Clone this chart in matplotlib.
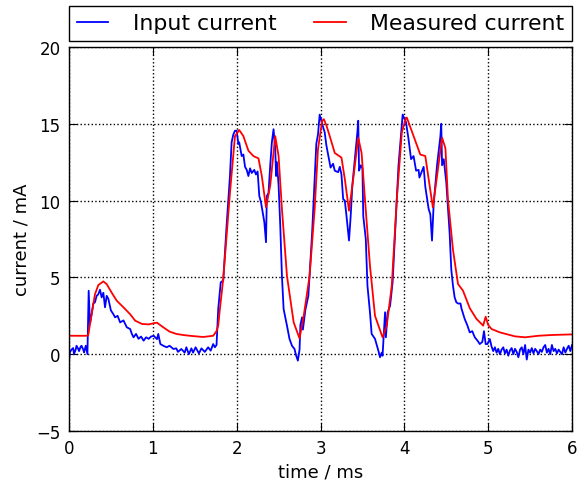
import matplotlib

matplotlib.use("Agg")

import matplotlib.pyplot as plt

# input current (blue)
t_input = [
    0.00, 0.01, 0.03, 0.05, 0.06, 0.08, 0.09, 0.11, 0.12, 0.14, 0.15, 0.17, 0.18, 0.20, 0.22,
    0.225, 0.235, 0.25, 0.27, 0.29, 0.31, 0.33, 0.35, 0.37, 0.39, 0.41, 0.43, 0.45, 0.47, 0.50,
    0.53, 0.55, 0.58, 0.61, 0.65, 0.69, 0.73, 0.75, 0.77, 0.80, 0.83, 0.86, 0.89, 0.92, 0.95,
    0.98, 1.01, 1.05, 1.065, 1.09, 1.125, 1.165, 1.20, 1.245, 1.28, 1.30, 1.34, 1.38, 1.40, 1.43,
    1.46, 1.48, 1.51, 1.55, 1.58, 1.62, 1.66, 1.69, 1.72, 1.74, 1.76, 1.78, 1.81, 1.84, 1.88,
    1.92, 1.94, 1.96, 1.98, 2.00, 2.02, 2.03, 2.06, 2.08, 2.10, 2.12, 2.14, 2.16, 2.18, 2.21,
    2.23, 2.25, 2.27, 2.29, 2.31, 2.33, 2.35, 2.36, 2.38, 2.40, 2.42, 2.44, 2.46, 2.47, 2.48,
    2.50, 2.52, 2.54, 2.56, 2.60, 2.63, 2.66, 2.69, 2.71, 2.73, 2.75, 2.76, 2.78, 2.79, 2.82,
    2.855, 2.90, 2.95, 2.97, 2.99, 3.03, 3.05, 3.07, 3.105, 3.12, 3.15, 3.17, 3.21, 3.23, 3.25,
    3.27, 3.29, 3.31, 3.34, 3.36, 3.38, 3.41, 3.44, 3.45, 3.46, 3.48, 3.50, 3.51, 3.54, 3.56,
    3.59, 3.61, 3.65, 3.69, 3.71, 3.73, 3.74, 3.77, 3.78, 3.80, 3.83, 3.86, 3.93, 3.98, 4.02,
    4.05, 4.08, 4.11, 4.14, 4.17, 4.18, 4.23, 4.25, 4.29, 4.31, 4.33, 4.35, 4.39, 4.43, 4.44,
    4.45, 4.47, 4.50, 4.54, 4.56, 4.58, 4.60, 4.62, 4.64, 4.67, 4.68, 4.72, 4.75, 4.78, 4.81,
    4.84, 4.87, 4.90, 4.93, 4.95, 4.97, 4.99, 5.02, 5.04, 5.06, 5.08, 5.10, 5.12, 5.14, 5.16,
    5.18, 5.20, 5.22, 5.24, 5.26, 5.28, 5.30, 5.32, 5.34, 5.36, 5.38, 5.40, 5.42, 5.44, 5.46,
    5.48, 5.50, 5.52, 5.54, 5.56, 5.58, 5.60, 5.62, 5.64, 5.66, 5.68, 5.70, 5.72, 5.74, 5.76,
    5.78, 5.80, 5.82, 5.84, 5.86, 5.88, 5.90, 5.92, 5.94, 5.96, 5.98, 6.00,
]
i_input = [
    -0.55, 0.12, 0.30, 0.40, 0.00, 0.30, 0.55, 0.35, 0.20, 0.50, 0.55, 0.30, 0.12, 0.55, 0.00,
    1.42, 4.13, 1.97, 2.60, 3.30, 3.38, 3.80, 3.90, 4.20, 3.70, 4.00, 3.05, 3.80, 3.60, 2.85,
    2.60, 2.40, 2.50, 2.07, 2.20, 1.75, 1.64, 1.32, 1.10, 1.32, 1.00, 1.15, 0.88, 1.10, 1.00,
    1.15, 1.20, 0.98, 1.32, 0.66, 0.55, 0.45, 0.55, 0.34, 0.38, 0.15, 0.34, 0.10, 0.45, 0.00,
    0.38, 0.10, 0.45, 0.05, 0.38, 0.15, 0.45, 0.23, 0.66, 0.45, 0.60, 2.94, 4.68, 4.80, 8.37,
    11.60, 13.80, 14.30, 14.55, 14.55, 13.70, 13.80, 12.90, 13.00, 12.20, 12.00, 11.60, 12.10, 11.80, 12.00,
    11.70, 11.90, 10.30, 9.90, 9.24, 8.60, 7.29, 10.30, 10.50, 12.27, 13.80, 14.65, 13.40, 11.60, 12.50,
    11.00, 8.37, 5.10, 2.94, 1.86, 1.00, 0.55, 0.34, -0.10, -0.42, 0.30, 1.90, 2.40, 1.60, 2.90,
    3.80, 7.90, 13.70, 14.30, 15.60, 14.80, 14.45, 13.60, 12.60, 12.15, 12.40, 11.95, 11.85, 12.20, 11.70,
    10.10, 10.00, 9.00, 7.40, 9.00, 11.00, 12.70, 14.45, 15.20, 11.95, 12.30, 12.10, 9.00, 7.50, 4.46,
    2.73, 1.32, 1.00, 0.23, -0.20, 0.10, -0.10, 2.73, 1.10, 2.70, 3.16, 4.68, 12.27, 15.60, 15.10,
    14.00, 12.70, 12.90, 11.95, 12.00, 11.50, 12.20, 10.90, 9.45, 9.10, 7.40, 9.80, 12.30, 14.20, 15.00,
    12.30, 12.70, 11.20, 7.90, 5.50, 4.46, 3.70, 3.38, 3.30, 3.30, 3.00, 2.29, 1.90, 1.42, 1.50,
    1.10, 0.90, 0.66, 0.80, 1.50, 0.66, 0.66, 0.98, 0.50, 0.20, 0.45, 0.10, 0.35, 0.00, 0.30,
    0.45, 0.05, 0.30, -0.10, 0.25, 0.40, 0.00, 0.35, 0.15, -0.20, 0.30, 0.45, 0.00, 0.60, -0.35,
    0.30, 0.10, 0.40, 0.05, 0.35, 0.20, 0.00, 0.30, 0.15, 0.45, 0.60, 0.10, 0.35, 0.00, 0.60,
    0.20, 0.35, 0.05, 0.30, 0.15, 0.00, 0.45, 0.10, 0.35, 0.55, 0.20, 0.60,
]

# measured current (red)
t_measured = [
    0.00, 0.22, 0.23, 0.27, 0.31, 0.35, 0.41, 0.45, 0.51, 0.57, 0.65, 0.73, 0.79, 0.87, 0.95,
    1.02, 1.05, 1.125, 1.20, 1.28, 1.36, 1.44, 1.60, 1.72, 1.76, 1.78, 1.80, 1.84, 1.92, 1.98,
    2.03, 2.08, 2.14, 2.20, 2.26, 2.30, 2.35, 2.40, 2.46, 2.50, 2.54, 2.60, 2.68, 2.75, 2.80,
    2.87, 2.93, 2.97, 3.02, 3.04, 3.07, 3.11, 3.17, 3.25, 3.29, 3.34, 3.39, 3.45, 3.49, 3.53,
    3.59, 3.65, 3.74, 3.79, 3.85, 3.91, 3.97, 4.02, 4.03, 4.11, 4.19, 4.25, 4.29, 4.34, 4.39,
    4.45, 4.49, 4.52, 4.58, 4.64, 4.70, 4.78, 4.86, 4.94, 4.97, 5.00, 5.04, 5.14, 5.32, 5.44,
    5.60, 5.76, 6.00,
]
i_measured = [
    1.20, 1.20, 1.25, 2.60, 3.90, 4.50, 4.74, 4.56, 4.00, 3.48, 3.05, 2.60, 2.18, 1.97, 1.94,
    2.03, 2.05, 1.75, 1.47, 1.32, 1.25, 1.20, 1.12, 1.20, 1.50, 1.86, 2.94, 4.90, 10.50, 14.20,
    14.60, 14.20, 13.25, 12.90, 12.75, 11.60, 9.56, 10.97, 14.20, 12.90, 9.45, 5.10, 2.07, 1.03, 2.50,
    5.10, 9.45, 13.36, 15.20, 15.30, 14.90, 14.20, 13.10, 12.80, 11.40, 9.34, 11.40, 14.10, 13.10, 10.10,
    5.76, 2.50, 1.10, 1.86, 4.46, 10.10, 14.45, 15.40, 15.40, 14.20, 13.00, 12.90, 11.40, 9.56, 11.60,
    14.10, 13.40, 10.10, 6.80, 4.57, 4.13, 3.00, 2.30, 1.86, 2.44, 1.90, 1.64, 1.42, 1.16, 1.10,
    1.20, 1.25, 1.29,
]

x_ticks = [0, 1, 2, 3, 4, 5, 6]
y_ticks = [-5, 0, 5, 10, 15, 20]

fig = plt.figure(figsize=(5.87, 4.85), dpi=100, facecolor="white")
ax = fig.add_axes([0.1175, 0.1093, 0.857, 0.7917])

ax.plot(t_input, i_input, color="#0000ff", lw=1.3, label="Input current")
ax.plot(t_measured, i_measured, color="#ff0000", lw=1.3, label="Measured current")

ax.set_xlim(0, 6)
ax.set_ylim(-5, 20)
ax.set_xticks(x_ticks)
ax.set_yticks(y_ticks)
ax.set_yticklabels(["\u22125" if v < 0 else str(v) for v in y_ticks])
ax.tick_params(direction="in", top=True, right=True, length=6, width=0.8, labelsize=12, pad=6)
ax.grid(True, color="black", linestyle=":", linewidth=1.0)
for spine in ax.spines.values():
    spine.set_linewidth(1.0)

ax.set_xlabel("time / ms", fontsize=13)
ax.set_ylabel("current / mA", fontsize=13)

leg = ax.legend(
    loc="lower left",
    bbox_to_anchor=(0.0, 1.016, 1.0, 0.1),
    mode="expand",
    ncol=2,
    borderaxespad=0.0,
    fontsize=15.8,
    handlelength=1.45,
    handletextpad=1.1,
    borderpad=0.35,
    fancybox=False,
    framealpha=1.0,
    edgecolor="black",
)
leg.get_frame().set_linewidth(1.0)

fig.savefig("out.png", dpi=100, facecolor="white")
